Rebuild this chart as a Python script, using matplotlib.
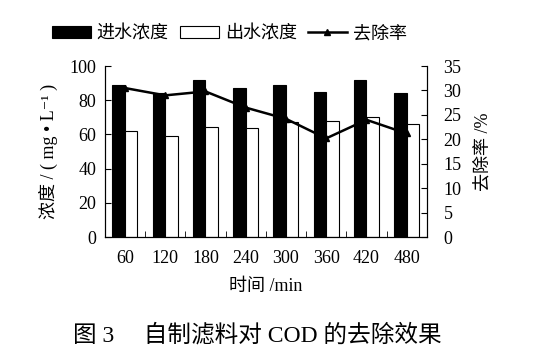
import numpy as np
import matplotlib
matplotlib.use("Agg")
import matplotlib.pyplot as plt

plt.rcParams['font.family'] = ['Liberation Serif', 'Noto Sans CJK SC', 'DejaVu Serif']
plt.rcParams['axes.unicode_minus'] = False

# data
times = ["60", "120", "180", "240", "300", "360", "420", "480"]
inflow = [89, 84, 92, 87, 89, 85, 92, 84]
outflow = [62, 59, 64.5, 64, 67, 68, 70, 66]
removal = [30.5, 29, 29.8, 26.5, 24.2, 20.2, 24, 21.2]

fig = plt.figure(figsize=(5.43, 3.55), dpi=100)
ax = fig.add_axes([0.193, 0.332, 0.593, 0.482])
x = np.arange(len(times))
w = 0.31

b1 = ax.bar(x - w/2, inflow, w, color='black', edgecolor='black', linewidth=0.8)
b2 = ax.bar(x + w/2, outflow, w, color='white', edgecolor='black', linewidth=0.8)
ax.set_xlim(-0.5, len(times) - 0.5)
ax.set_ylim(0, 100)
ax.set_yticks(range(0, 101, 20))
ax.set_xticks(x)
ax.set_xticklabels(times)
ax.set_xticks(np.arange(-0.5, len(times), 1), minor=True)
ax.tick_params(axis='x', which='major', length=0, labelsize=13, pad=9)
ax.tick_params(axis='x', which='minor', direction='in', length=4)
ax.tick_params(axis='y', direction='in', length=4, labelsize=13, pad=6)
ax.spines['top'].set_visible(False)
ax.set_xlabel('时间 /min', fontsize=13, labelpad=8)
ax.set_ylabel('浓度 / ( mg • L⁻¹ )', fontsize=13, labelpad=8)

ax2 = ax.twinx()
l1, = ax2.plot(x, removal, color='black', linewidth=1.8, marker='^', markersize=4.5)
ax2.set_ylim(0, 35)
ax2.set_yticks(range(0, 36, 5))
ax2.tick_params(axis='y', direction='in', length=4, labelsize=13, pad=12)
ax2.spines['top'].set_visible(False)
ax2.set_ylabel('去除率 /%', fontsize=13, labelpad=9)

fig.legend([b1, b2, l1], ['进水浓度', '出水浓度', '去除率'], loc='center',
           bbox_to_anchor=(0.422, 0.905), ncol=3, frameon=False, fontsize=13,
           handlelength=2.2, handleheight=0.6, handletextpad=0.3, columnspacing=0.6)

fig.text(0.474, 0.055, '图 3　 自制滤料对 COD 的去除效果', ha='center', va='center', fontsize=17)

fig.savefig('out.png', dpi=100)
